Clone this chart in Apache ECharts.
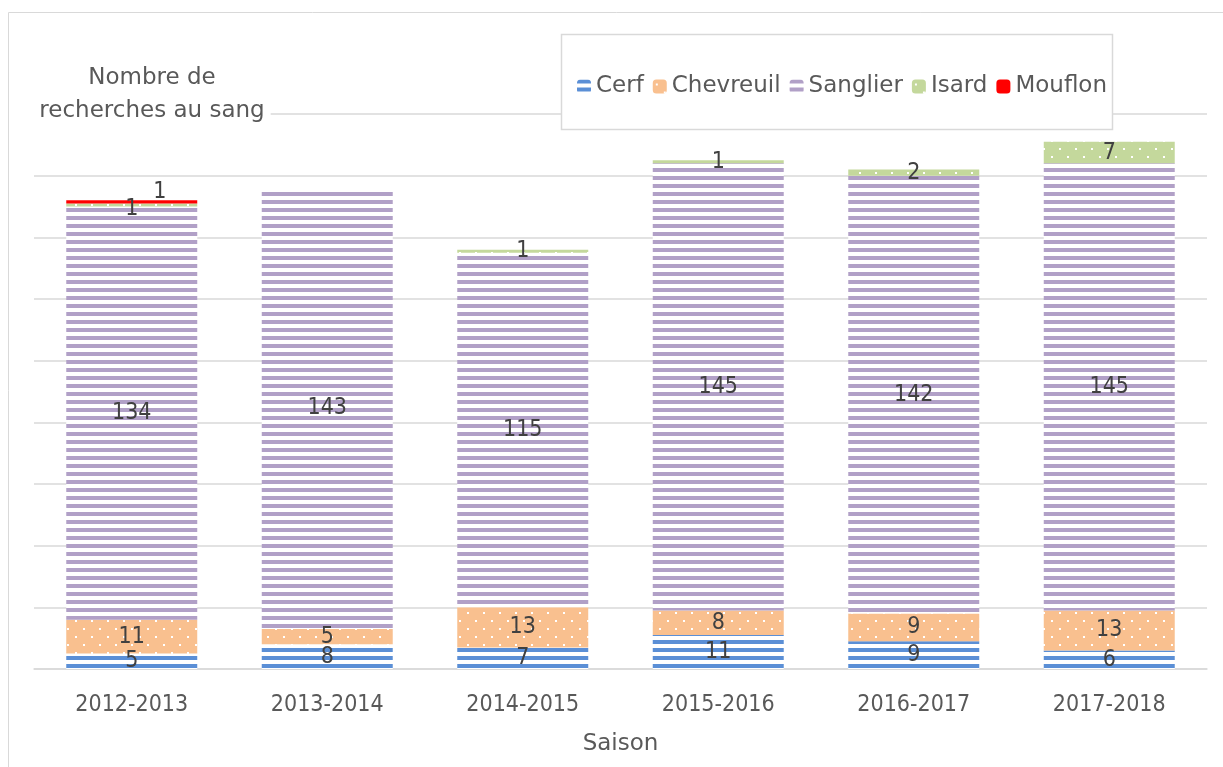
<!DOCTYPE html>
<html>
<head>
<meta charset="utf-8">
<title>Nombre de recherches au sang</title>
<script src="https://cdn.jsdelivr.net/npm/echarts@6/dist/echarts.min.js"></script>
<style>
  html, body { margin: 0; padding: 0; background: #fff; }
  #chart { width: 1223px; height: 767px; }
</style>
</head>
<body>
<div id="chart"></div>
<script>
// données
var saisons = ['2012-2013', '2013-2014', '2014-2015', '2015-2016', '2016-2017', '2017-2018'];
var cerf = [5, 8, 7, 11, 9, 6];
var chevreuil = [11, 5, 13, 8, 9, 13];
var sanglier = [134, 143, 115, 145, 142, 145];
var isard = [1, null, 1, 1, 2, 7];
var mouflon = [1, null, null, null, null, null];

// chiffres en condensé, texte en largeur normale (proche du Tahoma d'origine)
var fontChiffres = '"DejaVu Sans Condensed", "DejaVu Sans", sans-serif';
var fontTexte = '"DejaVu Sans", sans-serif';

// motifs façon Excel : rayures horizontales et pointillés
function rayures(couleur) {
    var c = document.createElement('canvas');
    c.width = 8; c.height = 8;
    var ctx = c.getContext('2d');
    ctx.fillStyle = '#ffffff';
    ctx.fillRect(0, 0, 8, 8);
    ctx.fillStyle = couleur;
    ctx.fillRect(0, 0, 8, 4);
    return { image: c, repeat: 'repeat' };
}
function points(couleur) {
    var c = document.createElement('canvas');
    c.width = 16; c.height = 16;
    var ctx = c.getContext('2d');
    ctx.fillStyle = couleur;
    ctx.fillRect(0, 0, 16, 16);
    ctx.fillStyle = '#ffffff';
    ctx.fillRect(3, 4, 2, 2);
    ctx.fillRect(11, 12, 2, 2);
    return { image: c, repeat: 'repeat' };
}

var myChart = echarts.init(document.getElementById('chart'));

function serie(nom, data, couleur, decalage) {
    return {
        name: nom,
        type: 'bar',
        stack: 'total',
        barWidth: '67%',
        data: data,
        itemStyle: { color: couleur },
        label: {
            show: true,
            position: 'inside',
            offset: decalage || [0, 0],
            color: '#404040',
            fontFamily: fontChiffres,
            fontSize: 23
        }
    };
}

var serieIsard = serie('Isard', isard, points('#c4d89c'));
// sur 2012-2013 l'étiquette Isard passe sous celle du mouflon
serieIsard.data = isard.map(function (v, i) {
    return i === 0 ? { value: v, label: { offset: [0, 4] } } : v;
});

myChart.setOption({
    animation: false,
    textStyle: { fontFamily: fontTexte },
    graphic: [
        {
            type: 'rect', z: 0,
            shape: { x: 8.5, y: 12.5, width: 1225, height: 770 },
            style: { fill: 'none', stroke: '#d9d9d9', lineWidth: 1 }
        },
        {
            type: 'rect', z: 3,
            shape: { x: 561.5, y: 34.5, width: 551, height: 95 },
            style: { fill: '#fff', stroke: '#d9d9d9', lineWidth: 1.5 }
        }
    ],
    title: {
        text: 'Nombre de\nrecherches au sang',
        left: 140,
        top: 62,
        textAlign: 'center',
        backgroundColor: '#fff',
        padding: [0, 6, 0, 12],
        textStyle: {
            color: '#595959',
            fontFamily: fontTexte,
            fontWeight: 'normal',
            fontSize: 23,
            lineHeight: 33
        }
    },
    legend: {
        data: ['Cerf', 'Chevreuil', 'Sanglier', 'Isard', 'Mouflon'],
        left: 572,
        top: 70,
        width: 560,
        z: 10,
        itemWidth: 14,
        itemHeight: 14,
        itemGap: 9,
        textStyle: { color: '#595959', fontFamily: fontTexte, fontSize: 23 }
    },
    grid: { left: 34, right: 16, top: 114, bottom: 98 },
    xAxis: {
        type: 'category',
        data: saisons,
        axisTick: { show: false },
        axisLine: { lineStyle: { color: '#d9d9d9', width: 1.5 } },
        axisLabel: { color: '#595959', fontFamily: fontChiffres, fontSize: 23, margin: 25 },
        name: 'Saison',
        nameLocation: 'middle',
        nameGap: 64,
        nameTextStyle: { color: '#595959', fontFamily: fontTexte, fontSize: 23 }
    },
    yAxis: {
        type: 'value',
        min: 0,
        max: 180,
        interval: 20,
        axisLabel: { show: false },
        axisLine: { show: false },
        axisTick: { show: false },
        splitLine: { lineStyle: { color: '#d9d9d9', width: 1.5 } }
    },
    series: [
        serie('Cerf', cerf, rayures('#5b8fd6')),
        serie('Chevreuil', chevreuil, points('#f9c08f')),
        serie('Sanglier', sanglier, rayures('#b1a0c7')),
        serieIsard,
        serie('Mouflon', mouflon, '#ff0000', [28, -10])
    ]
});
</script>
</body>
</html>
